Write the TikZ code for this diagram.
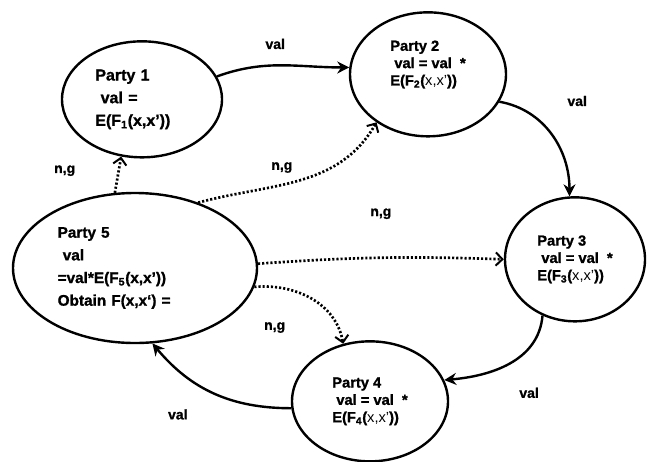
\documentclass[tikz,border=0pt]{standalone}
\usepackage{fontspec}
\setmainfont{Liberation Sans}[BoldFeatures={FakeBold=1.2}]
\usetikzlibrary{arrows.meta,shapes.geometric,positioning}

\tikzset{
  party/.style={ellipse,draw,line width=1.8pt,inner sep=0pt,align=left,
    font=\bfseries\fontsize{12}{17}\selectfont},
  small party/.style={party,font=\bfseries\fontsize{11}{13}\selectfont},
  pass/.style={-{Stealth[length=9pt,width=9pt]},line width=1.8pt},
  share/.style={-{Straight Barb[length=5pt,width=10pt,line width=1.5pt]},
    line width=2pt,dash pattern=on 1.6pt off 1.5pt},
  lbl/.style={font=\bfseries\fontsize{10.5}{12}\selectfont}
}

\begin{document}
\begin{tikzpicture}[x=0.75pt,y=-0.75pt,on grid]
\useasboundingbox (0,0) rectangle (649,461);
\node[party,minimum width=183pt,minimum height=112.5pt,text width=116pt,
  font=\bfseries\fontsize{11.5}{17}\selectfont] (p5) at (135,268)
  {Party 5\\ \ val\\ =val*E(F\textsubscript{5}(x,x'))\\ Obtain F(x,x`) =};
\node[party,minimum width=120pt,minimum height=87pt,text width=70pt]
  [above right=126.5pt and 5.25pt of p5] (p1) {Party 1\\ \ val =\\ E(F\textsubscript{1}(x,x'))};
\node[small party,minimum width=117pt,minimum height=93pt]
  [above right=18.75pt and 214.5pt of p1] (p2) {Party 2\\ \ val = val \ *\\ E(F\textsubscript{2}({\mdseries x,x'}))\\[4pt]};
\node[small party,minimum width=105pt,minimum height=93pt]
  [below right=138.75pt and 110.25pt of p2] (p3) {Party 3\\ \ val = val \ *\\ E(F\textsubscript{3}({\mdseries x,x'}))};
\node[small party,minimum width=117pt,minimum height=90pt]
  [below left=106.5pt and 153.75pt of p3] (p4) {Party 4\\ \ val = val \ *\\ E(F\textsubscript{4}({\mdseries x,x'}))};

\path[pass]
  (p1.17) edge[out=20,in=180] node[lbl,midway,yshift=16pt,xshift=-5pt] {val} (p2.175)
  (p2.-21) edge[out=-10,in=90] node[lbl,pos=.3,xshift=32pt,yshift=12pt] {val} (p3.95)
  (p3.240) edge[out=-95,in=5] node[lbl,midway,xshift=15pt,yshift=-22pt] {val} (p4.16)
  (p4.185) edge[out=180,in=-50] node[lbl,midway,xshift=-27pt,yshift=-16pt] {val} (p5.-77);

\path[share]
  (p5.105) edge node[lbl,midway,xshift=-40pt,yshift=3pt] {n,g} (p1.250)
  (p5.46) edge[out=15,in=-120] node[lbl,pos=.4,yshift=13pt] {n,g} (p2.223)
  (p5.2) edge[bend left=3] node[lbl,midway,yshift=33pt] {n,g} (p3.west)
  (p5.-9) edge[out=5,in=100] node[lbl,pos=.2,yshift=-30pt,xshift=-3pt] {n,g} (p4.115);
\end{tikzpicture}
\end{document}
